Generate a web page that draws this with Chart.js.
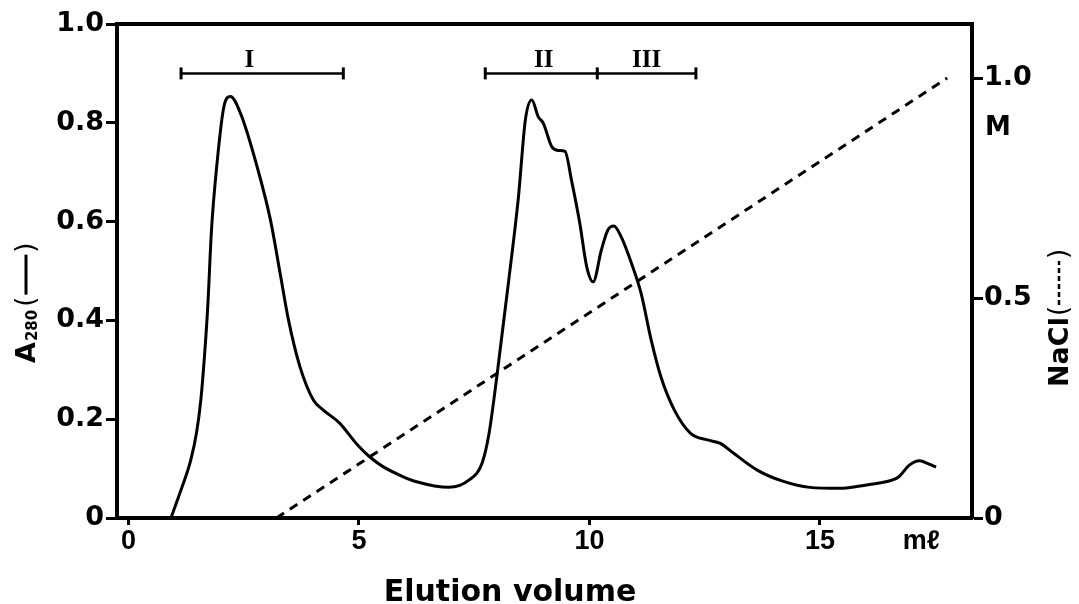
<!DOCTYPE html>
<html>
<head>
<meta charset="utf-8">
<script src="https://cdn.jsdelivr.net/npm/chart.js@4"></script>
<style>
  body { margin: 0; background: #fff; }
  #wrap { width: 1079px; height: 604px; }
</style>
</head>
<body>
<div id="wrap"><canvas id="elution"></canvas></div>
<script>
// A280 trace (solid line)
const elutionVol = [0.92, 1.14, 1.35, 1.48, 1.57, 1.65, 1.72, 1.80, 1.92, 2.07, 2.21, 2.43, 2.79, 3.08, 3.29, 3.47, 3.72, 4.01, 4.22, 4.58, 4.94, 5.23, 5.52, 5.95, 6.23, 6.95, 7.39, 7.67, 7.82, 8.00, 8.25, 8.46, 8.61, 8.75, 8.89, 9.00, 9.18, 9.33, 9.47, 9.61, 9.79, 9.94, 10.08, 10.26, 10.40, 10.53, 10.69, 10.91, 11.12, 11.34, 11.55, 11.84, 12.20, 12.56, 12.84, 13.13, 13.64, 14.21, 14.78, 15.43, 16.01, 16.58, 16.72, 16.94, 17.16, 17.37, 17.52];
const a280 = [0, 0.057, 0.117, 0.175, 0.24, 0.33, 0.43, 0.583, 0.718, 0.833, 0.853, 0.819, 0.711, 0.603, 0.495, 0.401, 0.306, 0.239, 0.219, 0.192, 0.151, 0.124, 0.104, 0.084, 0.074, 0.062, 0.077, 0.111, 0.17, 0.293, 0.482, 0.650, 0.806, 0.846, 0.812, 0.799, 0.752, 0.744, 0.742, 0.684, 0.597, 0.509, 0.478, 0.543, 0.583, 0.591, 0.569, 0.516, 0.455, 0.360, 0.286, 0.219, 0.171, 0.158, 0.151, 0.131, 0.097, 0.074, 0.062, 0.060, 0.067, 0.077, 0.084, 0.107, 0.116, 0.109, 0.103];

// NaCl gradient (dashed line, right axis)
const naclVol = [3.21, 17.76];
const naclConc = [0, 1.0];

// pooled fractions
const poolNames = ["I", "II", "III"];
const poolI = [1.14, 4.66];
const poolIIandIII = [7.74, 10.17, 12.31];
const poolLabelX = [2.62, 9.01, 11.24];
const poolY = 0.9;

const xTicks = [0, 5, 10, 15];
const unitTickX = 17.2;
const leftTicks = [0, 0.2, 0.4, 0.6, 0.8, 1.0];
const rightTicks = [0, 0.5, 1.0];

const pts = (xs, ys) => xs.map((x, i) => ({ x: x, y: ys[i] }));

const bracketSet = xs => ({
  data: xs.map(x => ({ x: x, y: poolY })),
  showLine: true,
  borderColor: "#000",
  borderWidth: 2.5,
  pointStyle: "line",
  rotation: 90,
  pointRadius: 6,
  pointBorderWidth: 3,
  pointBorderColor: "#000",
  yAxisID: "y"
});

const textPlugin = {
  id: "figText",
  afterDraw(chart) {
    const ctx = chart.ctx;
    const a = chart.chartArea;
    const x = chart.scales.x, y = chart.scales.y, y2 = chart.scales.y2;
    ctx.save();
    // top border of the frame
    ctx.strokeStyle = "#000";
    ctx.lineWidth = 4;
    ctx.beginPath();
    ctx.moveTo(a.left - 2, a.top);
    ctx.lineTo(a.right + 2, a.top);
    ctx.stroke();

    // pool labels
    ctx.fillStyle = "#000";
    ctx.font = "bold 25px 'Liberation Serif', serif";
    ctx.textAlign = "center";
    ctx.textBaseline = "alphabetic";
    poolNames.forEach((n, i) => {
      ctx.fillText(n, x.getPixelForValue(poolLabelX[i]), y.getPixelForValue(poolY) - 6);
    });

    // "M" under the right 1.0
    ctx.font = "bold 26px 'DejaVu Sans', sans-serif";
    ctx.textAlign = "left";
    ctx.textBaseline = "middle";
    ctx.fillText("M", a.right + 13, y2.getPixelForValue(1.0) + 50);

    // x title
    ctx.textAlign = "center";
    ctx.textBaseline = "alphabetic";
    ctx.font = "bold 30px 'DejaVu Sans', sans-serif";
    ctx.fillText("Elution volume", 510, 601);

    // left title A280(—)
    ctx.save();
    ctx.translate(35, 363);
    ctx.rotate(-Math.PI / 2);
    ctx.textAlign = "left";
    ctx.textBaseline = "alphabetic";
    let p = 0;
    ctx.font = "bold 27px 'DejaVu Sans', sans-serif";
    ctx.fillText("A", p, 0);
    p += ctx.measureText("A").width + 1;
    ctx.font = "bold 15px 'DejaVu Sans', sans-serif";
    ctx.fillText("280", p, 2);
    p += ctx.measureText("280").width + 3;
    ctx.font = "26px 'DejaVu Sans', sans-serif";
    ctx.fillText("(", p, -1);
    p += ctx.measureText("(").width + 2;
    ctx.lineWidth = 3;
    ctx.beginPath();
    ctx.moveTo(p, -9);
    ctx.lineTo(p + 40, -9);
    ctx.stroke();
    p += 42;
    ctx.fillText(")", p, -1);
    ctx.restore();

    // right title NaCl(-----)
    ctx.save();
    ctx.translate(1068, 387);
    ctx.rotate(-Math.PI / 2);
    ctx.textAlign = "left";
    ctx.textBaseline = "alphabetic";
    p = 0;
    ctx.font = "bold 27px 'DejaVu Sans', sans-serif";
    ctx.fillText("NaCl", p, 0);
    p += ctx.measureText("NaCl").width + 1;
    ctx.font = "26px 'DejaVu Sans', sans-serif";
    ctx.fillText("(", p, -1);
    p += ctx.measureText("(").width + 1;
    ctx.lineWidth = 2.5;
    ctx.setLineDash([5, 3]);
    ctx.beginPath();
    ctx.moveTo(p, -9);
    ctx.lineTo(p + 44, -9);
    ctx.stroke();
    ctx.setLineDash([]);
    p += 46;
    ctx.fillText(")", p, -1);
    ctx.restore();

    ctx.restore();
  }
};

const ctx = document.getElementById("elution").getContext("2d");
new Chart(ctx, {
  type: "scatter",
  data: {
    datasets: [
      {
        data: pts(elutionVol, a280),
        showLine: true,
        borderColor: "#000",
        borderWidth: 3,
        pointRadius: 0,
        cubicInterpolationMode: "monotone",
        yAxisID: "y"
      },
      {
        data: pts(naclVol, naclConc),
        showLine: true,
        borderColor: "#000",
        borderWidth: 3,
        borderDash: [9, 7],
        pointRadius: 0,
        yAxisID: "y2"
      },
      bracketSet(poolI),
      bracketSet(poolIIandIII)
    ]
  },
  options: {
    responsive: true,
    maintainAspectRatio: false,
    animation: false,
    layout: { padding: { top: 24, left: 0, right: 0, bottom: 0 } },
    plugins: {
      legend: { display: false },
      tooltip: { enabled: false }
    },
    scales: {
      x: {
        type: "linear",
        min: -0.25,
        max: 18.3,
        afterBuildTicks: s => { s.ticks = xTicks.concat([unitTickX]).map(v => ({ value: v })); },
        afterFit: s => { s.height = 86; },
        border: { display: true, color: "#000", width: 4 },
        grid: {
          drawOnChartArea: false,
          tickLength: 7,
          tickWidth: 3,
          tickColor: c => (c.tick && c.tick.value === unitTickX ? "rgba(0,0,0,0)" : "#000")
        },
        ticks: {
          color: "#000",
          padding: 0,
          maxRotation: 0,
          font: { family: "'Liberation Sans', Arial, sans-serif", size: 27, weight: "bold" },
          callback: v => (v === unitTickX ? "mℓ" : String(v))
        }
      },
      y: {
        position: "left",
        min: 0,
        max: 1.0,
        afterBuildTicks: s => { s.ticks = leftTicks.map(v => ({ value: v })); },
        afterFit: s => { s.width = 117; },
        border: { display: true, color: "#000", width: 4 },
        grid: { drawOnChartArea: false, tickLength: 11, tickWidth: 3, tickColor: "#000" },
        ticks: {
          color: "#000",
          padding: 2,
          font: { family: "'DejaVu Sans', sans-serif", size: 27, weight: "bold" },
          callback: v => (v === 0 ? "0" : v.toFixed(1))
        }
      },
      y2: {
        position: "right",
        min: 0,
        max: 1.123,
        afterBuildTicks: s => { s.ticks = rightTicks.map(v => ({ value: v })); },
        afterFit: s => { s.width = 107; },
        border: { display: true, color: "#000", width: 4 },
        grid: { drawOnChartArea: false, tickLength: 11, tickWidth: 3, tickColor: "#000" },
        ticks: {
          color: "#000",
          padding: 1,
          font: { family: "'DejaVu Sans', sans-serif", size: 27, weight: "bold" },
          callback: v => (v === 0 ? "0" : v.toFixed(1))
        }
      }
    }
  },
  plugins: [textPlugin]
});
</script>
</body>
</html>
